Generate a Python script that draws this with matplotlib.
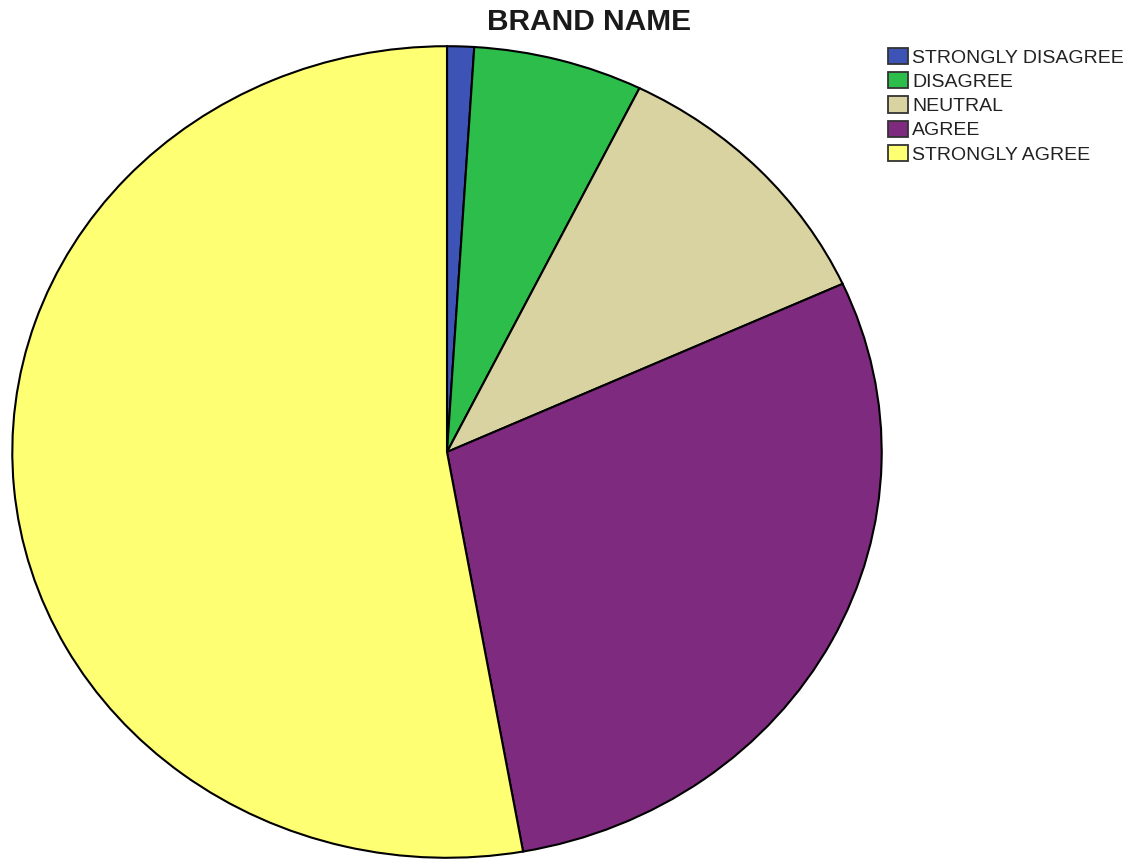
import matplotlib
matplotlib.use("Agg")
import matplotlib.pyplot as plt
from matplotlib.patches import Patch

plt.rcParams['font.family'] = ['Liberation Sans', 'DejaVu Sans']

# brand name responses, percent of respondents
categories = ['STRONGLY DISAGREE', 'DISAGREE', 'NEUTRAL', 'AGREE', 'STRONGLY AGREE']
percents = [1.0, 6.3, 10.9, 29.0, 52.8]
colours = ['#3D53B5', '#2DBD4B', '#D8D3A0', '#7E2A7E', '#FFFF73']

fig = plt.figure(figsize=(11.3, 8.6), dpi=100)
# pie is stretched a bit wider than tall, so aspect stays auto
ax = fig.add_axes([11/1130, 1/860, 872/1130, 814/860])
ax.pie(percents, colors=colours, startangle=90, counterclock=False,
       radius=1, wedgeprops={'edgecolor': 'black', 'linewidth': 1.5})
ax.set_aspect('auto')
ax.set_xlim(-1.003, 1.003)
ax.set_ylim(-1.003, 1.003)
ax.axis('off')

fig.text(589/1130, 1 - 22/860, 'BRAND NAME', ha='center', va='center',
         fontsize=21.5, fontweight='bold', color='#1a1a1a')

handles = [Patch(facecolor=c, edgecolor='#333333', linewidth=1.3) for c in colours]
fig.legend(handles, categories, loc='upper left',
           bbox_to_anchor=(888/1130, 1 - 48/860), frameon=False,
           fontsize=14, handlelength=1.05, handleheight=0.9,
           handletextpad=0.2, labelspacing=0.28, borderpad=0,
           borderaxespad=0, labelcolor='#222222')

fig.savefig('out.png', dpi=100)
